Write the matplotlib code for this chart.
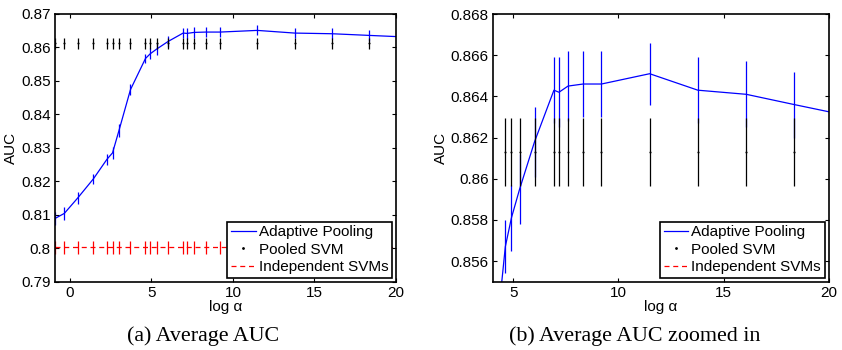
import matplotlib
matplotlib.use("Agg")
import matplotlib.pyplot as plt
from matplotlib.lines import Line2D
from matplotlib.ticker import FuncFormatter

# ---- data ----
log_alpha = [-0.92, -0.35, 0.47, 1.43, 2.27, 2.61, 3.00, 3.71, 4.63, 4.92, 5.31,
             6.02, 6.94, 7.18, 7.61, 8.33, 9.20, 11.49, 13.78, 16.08, 18.37, 20.72]
adaptive_auc = [0.8089, 0.8104, 0.8150, 0.8207, 0.8266, 0.8285, 0.8351, 0.8474,
                0.8567, 0.8581, 0.8595, 0.8618, 0.8643, 0.8642, 0.8645, 0.8646,
                0.8646, 0.8651, 0.8643, 0.8641, 0.8636, 0.8631]
adaptive_err = [0.0020, 0.0020, 0.0017, 0.0016, 0.0017, 0.0018, 0.0019, 0.0017,
                0.0013, 0.0016, 0.0017, 0.0017, 0.0016, 0.0017, 0.0017, 0.0016,
                0.0016, 0.0015, 0.0016, 0.0016, 0.0016, 0.0016]
pooled_auc = [0.8613] * len(log_alpha)
pooled_err = [0.00166] * len(log_alpha)
indep_auc = [0.8003] * len(log_alpha)
indep_err = [0.0020] * len(log_alpha)

series_labels = ["Adaptive Pooling", "Pooled SVM", "Independent SVMs"]
captions = ["(a) Average AUC", "(b) Average AUC zoomed in"]
xlims = [(-0.92, 20), (4.03, 20)]
ylims = [(0.79, 0.87), (0.855, 0.868)]
xticks = [[0, 5, 10, 15, 20], [5, 10, 15, 20]]
yticks = [[0.79, 0.80, 0.81, 0.82, 0.83, 0.84, 0.85, 0.86, 0.87],
          [0.856, 0.858, 0.860, 0.862, 0.864, 0.866, 0.868]]

plt.rcParams['font.family'] = ['Liberation Sans', 'DejaVu Sans']
plt.rcParams['font.size'] = 11

fig = plt.figure(figsize=(8.42, 3.5), dpi=100)
positions = [[55/842, 1-281.7/350, (396-55)/842, (281.7-14)/350],
             [492.7/842, 1-281.7/350, (828.7-492.7)/842, (281.7-14)/350]]
caption_x = [203/842, 635/842]

fmt = FuncFormatter(lambda v, p: ('%g' % round(v, 4)))

for i in range(2):
    ax = fig.add_axes(positions[i])
    ax.errorbar(log_alpha, adaptive_auc, yerr=adaptive_err, color=(0, 0, 1),
                lw=0.9, elinewidth=0.9, capsize=0, zorder=2)
    ax.errorbar(log_alpha, pooled_auc, yerr=pooled_err, color='k', ls='none',
                marker='.', markersize=1.0, elinewidth=0.9, capsize=0, zorder=3)
    ax.errorbar(log_alpha, indep_auc, yerr=indep_err, color=(1, 0, 0), ls=(0, (4, 3)),
                lw=0.9, elinewidth=0.9, capsize=0, zorder=4)
    ax.set_xlim(*xlims[i])
    ax.set_ylim(*ylims[i])
    ax.set_xticks(xticks[i])
    ax.set_yticks(yticks[i])
    ax.yaxis.set_major_formatter(fmt)
    ax.tick_params(direction='in', top=True, right=True, length=3, width=0.8,
                   labelsize=11, pad=3)
    for s in ax.spines.values():
        s.set_linewidth(1.2)
        s.set_zorder(5)
    ax.set_xlabel("log α", labelpad=0)
    ax.set_ylabel("AUC", labelpad=2)
    handles = [Line2D([], [], color=(0, 0, 1), lw=0.9),
               Line2D([], [], color='k', marker='.', markersize=2, ls='none'),
               Line2D([], [], color=(1, 0, 0), lw=0.9, ls=(0, (4, 3)))]
    leg = ax.legend(handles, series_labels, loc='lower right', fontsize=11,
                    frameon=True, fancybox=False, framealpha=1, edgecolor='k',
                    borderpad=0.25, labelspacing=0.22, handlelength=1.6,
                    handletextpad=0.2, borderaxespad=0.25)
    leg.get_frame().set_linewidth(1.2)
    leg.set_zorder(6)
    fig.text(caption_x[i], 1-336/350, captions[i], ha='center', va='center',
             fontsize=15.8, family=['Liberation Serif', 'DejaVu Serif'])

fig.savefig("out.png", dpi=100)
